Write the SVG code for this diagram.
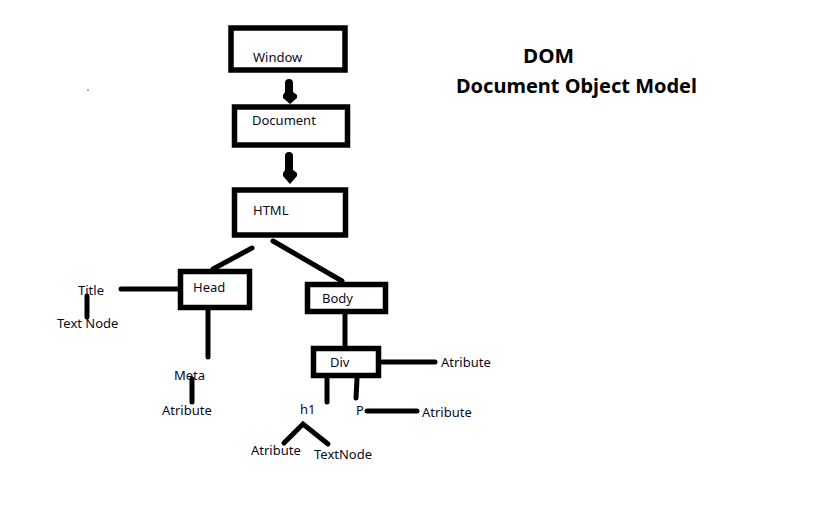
<svg xmlns="http://www.w3.org/2000/svg" width="831" height="506" viewBox="0 0 831 506">
<style>
.box{fill:#fff;stroke:#000;stroke-width:5.5}
.ln{stroke:#000;stroke-width:5;fill:none;stroke-linecap:round}
.lbl{font-family:"Noto Sans","Open Sans","Liberation Sans",sans-serif;font-size:13px;fill:#0a0a1e}
.ttl{font-family:"Noto Sans","Open Sans","Liberation Sans",sans-serif;font-size:20px;font-weight:bold;fill:#000}
.arr{fill:#000;stroke:none}
</style>
<rect width="831" height="506" fill="#fff"/>
<g id="connectors">
<path class="arr" d="M285,83 Q285,79 289,79 Q293,79 293,83 L293,92 L297,95 L297,98 L290,104 L283,98 L283,95 L285,92 Z"/>
<path class="arr" d="M285,156 Q285,152 289,152 Q293,152 293,156 L293,170 L297,173 L297,176 L290,184 L283,176 L283,173 L285,170 Z"/>
<line class="ln" x1="252" y1="248" x2="213" y2="269"/>
<line class="ln" x1="273" y1="241" x2="342" y2="281"/>
<line class="ln" x1="121" y1="289" x2="178" y2="289"/>
<line class="ln" x1="87" y1="296" x2="87" y2="317"/>
<line class="ln" x1="208" y1="310" x2="208" y2="357"/>
<line class="ln" x1="192" y1="379" x2="192" y2="402"/>
<line class="ln" x1="345" y1="314" x2="345" y2="345"/>
<line class="ln" x1="382" y1="362" x2="435" y2="362"/>
<line class="ln" x1="327" y1="379" x2="327" y2="402"/>
<line class="ln" x1="357" y1="379" x2="356" y2="398"/>
<line class="ln" x1="367" y1="411" x2="417" y2="411"/>
<polyline class="ln" points="284,443 303,424 328,444"/>
</g>
<g id="window">
<rect class="box" x="231" y="28" width="114" height="42"/>
<text class="lbl" x="253" y="62">Window</text>
</g>
<g id="document">
<rect class="box" x="234.5" y="107" width="113" height="38"/>
<text class="lbl" x="252" y="125">Document</text>
</g>
<g id="html">
<rect class="box" x="234.5" y="190" width="111" height="45"/>
<text class="lbl" x="253" y="215">HTML</text>
</g>
<g id="head">
<rect class="box" x="180.5" y="271.5" width="69" height="36"/>
<text class="lbl" x="193" y="292">Head</text>
</g>
<g id="body">
<rect class="box" x="307.5" y="284.5" width="78" height="27"/>
<text class="lbl" x="322" y="303">Body</text>
</g>
<g id="div">
<rect class="box" x="313.5" y="348.5" width="65" height="27"/>
<text class="lbl" x="330" y="367">Div</text>
</g>
<g id="title"><text class="lbl" x="78" y="295">Title</text></g>
<g id="title-textnode"><text class="lbl" x="57" y="328">Text Node</text></g>
<g id="meta"><text class="lbl" x="174" y="380">Meta</text></g>
<g id="meta-atribute"><text class="lbl" x="162" y="415">Atribute</text></g>
<g id="div-atribute"><text class="lbl" x="441" y="367">Atribute</text></g>
<g id="h1"><text class="lbl" x="300" y="414">h1</text></g>
<g id="p"><text class="lbl" x="356" y="415">P</text></g>
<g id="p-atribute"><text class="lbl" x="422" y="417">Atribute</text></g>
<g id="h1-atribute"><text class="lbl" x="251" y="455">Atribute</text></g>
<g id="h1-textnode"><text class="lbl" x="314" y="459">TextNode</text></g>
<g id="heading">
<text class="ttl" x="523" y="63" textLength="51" lengthAdjust="spacingAndGlyphs">DOM</text>
<text class="ttl" x="456" y="93" textLength="241" lengthAdjust="spacingAndGlyphs">Document Object Model</text>
</g>
<circle cx="88" cy="90" r="0.8" fill="#555"/>
</svg>
